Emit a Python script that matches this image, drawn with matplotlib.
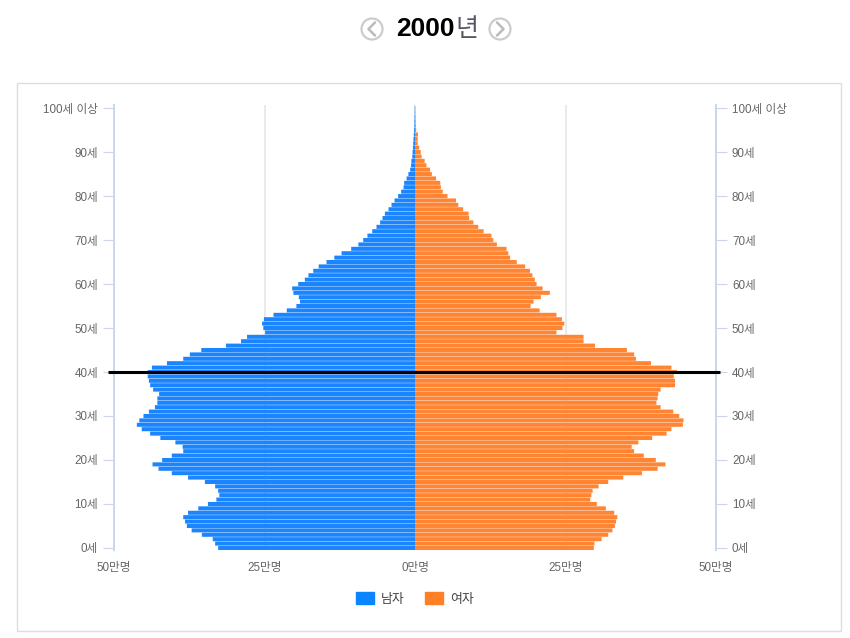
import matplotlib
matplotlib.use('Agg')
import matplotlib.pyplot as plt
from matplotlib.patches import Rectangle, Circle, Patch

plt.rcParams['font.family'] = ['Liberation Sans', 'Noto Sans CJK KR', 'DejaVu Sans']

# population in units of 10,000 (만명), index = age
ages = list(range(101))
male = [32.7, 33.2, 33.6, 35.4, 37.1, 37.9, 38.2, 38.5, 37.7, 36.0,
        34.4, 33.0, 32.5, 32.7, 33.2, 34.9, 37.7, 40.4, 42.6, 43.6,
        42.0, 40.4, 38.5, 38.6, 39.8, 42.3, 44.0, 45.4, 46.2, 45.8,
        45.1, 44.2, 43.2, 42.8, 42.8, 42.5, 43.5, 44.0, 44.2, 44.4,
        44.4, 43.7, 41.2, 38.5, 37.4, 35.5, 31.4, 28.9, 27.9, 24.9,
        25.2, 25.4, 25.1, 23.5, 21.3, 19.7, 19.1, 19.3, 20.2, 20.4,
        19.4, 18.3, 17.7, 16.9, 16.0, 14.7, 13.4, 12.2, 10.6, 9.4,
        8.6, 7.9, 7.1, 6.4, 5.8, 5.4, 5.0, 4.4, 3.9, 3.4,
        2.8, 2.3, 1.9, 1.8, 1.4, 1.1, 0.8, 0.65, 0.6, 0.45,
        0.4, 0.35, 0.3, 0.25, 0.2, 0.15, 0.1, 0.1, 0.08, 0.06, 0.05]
female = [29.7, 29.8, 31.0, 32.1, 32.8, 33.2, 33.4, 33.6, 33.1, 31.7,
          30.2, 29.1, 29.3, 29.5, 30.5, 32.1, 34.6, 37.7, 40.3, 41.6,
          40.0, 38.0, 36.4, 36.0, 37.1, 39.4, 41.8, 42.6, 44.5, 44.6,
          43.9, 42.9, 40.8, 40.1, 40.3, 40.4, 40.8, 43.2, 43.2, 43.0,
          43.5, 42.6, 39.2, 36.7, 36.4, 35.2, 29.9, 28.0, 28.0, 23.5,
          24.5, 24.8, 24.4, 23.5, 20.7, 19.2, 19.7, 20.9, 22.4, 21.2,
          20.2, 19.9, 19.5, 19.1, 18.3, 16.9, 15.8, 15.5, 15.2, 13.6,
          13.0, 12.7, 11.4, 10.5, 9.7, 9.0, 8.9, 8.0, 7.2, 6.8,
          5.4, 4.6, 4.3, 4.2, 3.5, 2.8, 2.5, 1.9, 1.6, 1.1,
          0.95, 0.7, 0.45, 0.45, 0.5, 0.2, 0.15, 0.12, 0.1, 0.08, 0.06]

age_ticks = list(range(0, 101, 10))
age_labels = [f'{a}세' for a in age_ticks[:-1]] + ['100세 이상']
x_ticks = [-50, -25, 0, 25, 50]
x_labels = ['50만명', '25만명', '0만명', '25만명', '50만명']
marked_age = 40

W, H = 850, 638
fig = plt.figure(figsize=(W / 100, H / 100), dpi=100, facecolor='white')

# page decorations, in pixel coordinates
bg = fig.add_axes([0, 0, 1, 1])
bg.set_xlim(0, W)
bg.set_ylim(H, 0)
bg.axis('off')
bg.add_patch(Rectangle((17, 83), 824, 548, fc='white', ec='#dddddd', lw=1))
for cx, sign in [(372, 1), (500, -1)]:
    bg.add_patch(Circle((cx, 29), 10.5, fc='white', ec='#cccccc', lw=1.6))
    bg.plot([cx + 3 * sign, cx - 3.5 * sign, cx + 3 * sign], [22.5, 29, 35.5],
            color='#bbbbbb', lw=1.8, solid_capstyle='round')
bg.text(455, 29.5, '2000', ha='right', va='center', fontsize=19, fontweight='bold', color='black')
bg.text(455.5, 29.5, '년', ha='left', va='center', fontsize=18, color='#555566')

left, right, top, bottom = 114, 716, 105, 549.5
ax = fig.add_axes([left / W, 1 - bottom / H, (right - left) / W, (bottom - top) / H])
ax.patch.set_alpha(0)
male_bars = ax.barh(ages, [-m for m in male], height=0.92, color='#1a85ff', edgecolor='none', zorder=2)
female_bars = ax.barh(ages, female, height=0.92, color='#ff8533', edgecolor='none', zorder=2)
# no pixel snapping, so the gaps blur into light stripes
for bar in list(male_bars) + list(female_bars):
    bar.set_snap(False)
ax.plot([-51, 50.7], [marked_age, marked_age], color='black', lw=2.2, clip_on=False,
        solid_capstyle='butt', zorder=5)

ax.set_xlim(-50, 50)
ax.set_ylim(-0.35, 100.7)
ax.set_xticks(x_ticks)
ax.set_xticklabels(x_labels)
ax.set_yticks(age_ticks)
ax.set_yticklabels(age_labels)
ax.grid(axis='x', color='#e6e6e6', lw=1.2, zorder=0)
ax.set_axisbelow(True)
ax.tick_params(axis='x', length=0, pad=9, labelsize=8.4, labelcolor='#666666')
ax.tick_params(axis='y', left=True, right=True, labelleft=True, labelright=True,
               length=8, width=0.8, color='#ccd6eb', pad=3.5, labelsize=8.4, labelcolor='#666666')
for side in ['top', 'bottom']:
    ax.spines[side].set_visible(False)
for side in ['left', 'right']:
    ax.spines[side].set_color('#ccd6eb')
    ax.spines[side].set_linewidth(1.4)

handles = [Patch(color='#0a84ff', label='남자'), Patch(color='#ff7f27', label='여자')]
fig.legend(handles=handles, loc='center', bbox_to_anchor=(415 / W, 1 - 599 / H), ncol=2, frameon=False,
           fontsize=9.3, labelcolor='#444444', handlelength=1.4, handleheight=1.0,
           handletextpad=0.55, columnspacing=1.6)

fig.savefig('out.png', dpi=100, facecolor='white')
